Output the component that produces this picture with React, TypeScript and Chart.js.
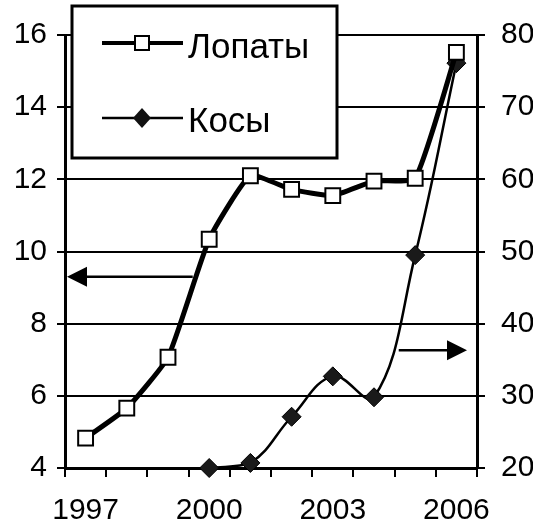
import { useEffect, useRef } from 'react';
import { Chart, registerables } from 'chart.js';

Chart.register(...registerables);

const years = ['1997', '1998', '1999', '2000', '2001', '2002', '2003', '2004', '2005', '2006'];
const shownYears = ['1997', '2000', '2003', '2006'];
const lopaty = [4.83, 5.66, 7.07, 10.34, 12.1, 11.72, 11.55, 11.95, 12.03, 15.52];
const kosy = [null, null, null, 20, 20.7, 27.1, 32.7, 29.8, 49.5, 76.1];
const seriesNames = ['Лопаты', 'Косы'];
const leftRange = { min: 4, max: 16, step: 2 };
const rightRange = { min: 20, max: 80, step: 10 };

const FONT = '"Liberation Sans", Arial, sans-serif';

function arrow(ctx: CanvasRenderingContext2D, x1: number, x2: number, y: number, dir: number) {
  // x1 = tail, x2 = tip
  const headLen = 20;
  const headHalf = 10;
  ctx.save();
  ctx.strokeStyle = '#000';
  ctx.fillStyle = '#000';
  ctx.lineWidth = 2.5;
  ctx.beginPath();
  ctx.moveTo(x1, y);
  ctx.lineTo(x2 - dir * headLen * 0.8, y);
  ctx.stroke();
  ctx.beginPath();
  ctx.moveTo(x2, y);
  ctx.lineTo(x2 - dir * headLen, y - headHalf);
  ctx.lineTo(x2 - dir * headLen, y + headHalf);
  ctx.closePath();
  ctx.fill();
  ctx.restore();
}

const overlayPlugin = {
  id: 'overlay',
  afterDraw(chart: any) {
    const ctx: CanvasRenderingContext2D = chart.ctx;
    const x = chart.scales.x;
    const yL = chart.scales.yL;
    const yR = chart.scales.yR;
    const area = chart.chartArea;

    // arrows pointing to the relevant axis
    const ly = yL.getPixelForValue(9.3);
    arrow(ctx, x.getPixelForValue(2.6), area.left + 2, ly, -1);
    const ry = yR.getPixelForValue(36.3);
    arrow(ctx, x.getPixelForValue(7.6), area.right - 10, ry, 1);

    // legend box
    const bx = area.left + 7;
    const by = 6;
    const bw = 265;
    const bh = 152;
    ctx.save();
    ctx.fillStyle = '#fff';
    ctx.fillRect(bx, by, bw, bh);
    ctx.strokeStyle = '#000';
    ctx.lineWidth = 3;
    ctx.strokeRect(bx, by, bw, bh);

    const lx1 = bx + 30;
    const lx2 = bx + 111;
    const mx = bx + 70;
    // Лопаты
    const y1 = 43;
    ctx.lineWidth = 4;
    ctx.beginPath();
    ctx.moveTo(lx1, y1);
    ctx.lineTo(lx2, y1);
    ctx.stroke();
    ctx.fillStyle = '#fff';
    ctx.lineWidth = 2;
    ctx.fillRect(mx - 7, y1 - 7, 14, 14);
    ctx.strokeRect(mx - 7, y1 - 7, 14, 14);
    // Косы
    const y2 = 118;
    ctx.lineWidth = 2.5;
    ctx.beginPath();
    ctx.moveTo(lx1, y2);
    ctx.lineTo(lx2, y2);
    ctx.stroke();
    ctx.fillStyle = '#111';
    ctx.beginPath();
    ctx.moveTo(mx, y2 - 10);
    ctx.lineTo(mx + 9, y2);
    ctx.lineTo(mx, y2 + 10);
    ctx.lineTo(mx - 9, y2);
    ctx.closePath();
    ctx.fill();

    ctx.fillStyle = '#000';
    ctx.font = `35px ${FONT}`;
    ctx.textAlign = 'left';
    ctx.textBaseline = 'alphabetic';
    ctx.fillText(seriesNames[0], bx + 116, 58);
    ctx.fillText(seriesNames[1], bx + 116, 132);
    ctx.restore();
  },
};

export default function App() {
  const ref = useRef<HTMLCanvasElement>(null);

  useEffect(() => {
    if (!ref.current) return;
    const tickFont = { family: FONT, size: 30 };
    const chart = new Chart(ref.current, {
      type: 'line',
      data: {
        labels: years,
        datasets: [
          {
            label: seriesNames[0],
            data: lopaty,
            yAxisID: 'yL',
            borderColor: '#000',
            borderWidth: 5,
            tension: 0.15,
            pointStyle: 'rect',
            pointRadius: 10.5,
            pointBorderWidth: 2,
            pointBorderColor: '#000',
            pointBackgroundColor: '#fff',
            clip: false,
          },
          {
            label: seriesNames[1],
            data: kosy,
            yAxisID: 'yR',
            borderColor: '#000',
            borderWidth: 2.5,
            tension: 0.4,
            pointStyle: 'rectRot',
            pointRadius: 9.5,
            pointBorderWidth: 1,
            pointBorderColor: '#000',
            pointBackgroundColor: '#1a1a1a',
            clip: false,
          },
        ],
      },
      options: {
        animation: false,
        responsive: true,
        maintainAspectRatio: false,
        layout: { padding: { top: 35, left: 0, right: 0, bottom: 0 } },
        plugins: { legend: { display: false }, tooltip: { enabled: false } },
        scales: {
          x: {
            type: 'category',
            offset: true,
            grid: { offset: true, drawOnChartArea: false, tickLength: 9, color: '#000', lineWidth: 2 },
            border: { color: '#000', width: 3 },
            ticks: {
              autoSkip: false,
              maxRotation: 0,
              padding: 16,
              color: '#000',
              font: tickFont,
              callback: (_v: any, i: number) => (shownYears.includes(years[i]) ? years[i] : ''),
            },
            afterFit: (s: any) => {
              s.height = 61;
            },
          },
          yL: {
            position: 'left',
            min: leftRange.min,
            max: leftRange.max,
            grid: { color: '#000', lineWidth: 2, tickLength: 8 },
            border: { color: '#000', width: 3 },
            ticks: { stepSize: leftRange.step, padding: 10, color: '#000', font: tickFont },
            afterFit: (s: any) => {
              s.width = 65;
            },
          },
          yR: {
            position: 'right',
            min: rightRange.min,
            max: rightRange.max,
            grid: { drawOnChartArea: false, color: '#000', lineWidth: 2, tickLength: 8 },
            border: { color: '#000', width: 3 },
            ticks: { stepSize: rightRange.step, padding: 16, color: '#000', font: tickFont },
            afterFit: (s: any) => {
              s.width = 56;
            },
          },
        },
      },
      plugins: [overlayPlugin],
    });
    return () => chart.destroy();
  }, []);

  return (
    <div style={{ position: 'absolute', left: 0, top: 0, width: 533, height: 529, background: '#fff' }}>
      <canvas ref={ref} />
    </div>
  );
}
